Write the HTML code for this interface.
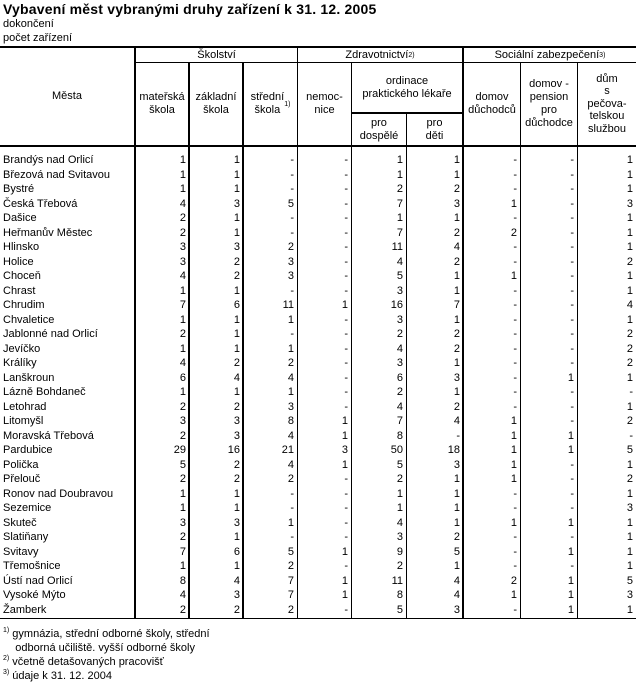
<!DOCTYPE html>
<html><head><meta charset="utf-8"><style>
body{margin:0;width:636px;height:681px;background:#fff;position:relative;overflow:hidden;font-family:"Liberation Sans",Arial,sans-serif;font-size:11px;color:#000}
.a{position:absolute}
.h{position:absolute;background:#000}
.c{position:absolute;display:flex;align-items:center;justify-content:center;text-align:center;line-height:13px}
sup{font-size:7px;vertical-align:top;line-height:7px}
.g{position:absolute;left:0;top:153px;width:636px;display:grid;grid-template-columns:135px 54px 54px 54px 54px 55px 57px 57px 57px 59px;grid-auto-rows:14.52px;line-height:14.52px}
.g span{text-align:right;padding-right:3px;white-space:nowrap}
.g span.n{text-align:left;padding-left:3px;padding-right:0}
</style></head><body>
<div class="a" style="left:3px;top:1px;font-size:14px;font-weight:bold;letter-spacing:0.2px">Vybavení měst vybranými druhy zařízení k 31. 12. 2005</div>
<div class="a" style="left:3px;top:18px">dokončení</div>
<div class="a" style="left:3px;top:32px">počet zařízení</div>

<div class="h" style="left:0;top:46px;width:636px;height:2px"></div>
<div class="h" style="left:135px;top:62px;width:501px;height:1px"></div>
<div class="h" style="left:351px;top:112px;width:112px;height:2px"></div>
<div class="h" style="left:0;top:145px;width:636px;height:2px"></div>
<div class="h" style="left:0;top:618px;width:636px;height:1px"></div>
<div class="h" style="left:134px;top:48px;width:2px;height:570px"></div>
<div class="h" style="left:188px;top:63px;width:2px;height:555px"></div>
<div class="h" style="left:242px;top:63px;width:2px;height:555px"></div>
<div class="h" style="left:297px;top:48px;width:1px;height:570px"></div>
<div class="h" style="left:351px;top:63px;width:1px;height:555px"></div>
<div class="h" style="left:406px;top:114px;width:1px;height:504px"></div>
<div class="h" style="left:462px;top:48px;width:2px;height:570px"></div>
<div class="h" style="left:520px;top:63px;width:1px;height:555px"></div>
<div class="h" style="left:577px;top:63px;width:1px;height:555px"></div>

<div class="c" style="left:0;top:48px;width:134px;height:97px">Města</div>
<div class="c" style="left:136px;top:48px;width:161px;height:14px">Školství</div>
<div class="c" style="left:298px;top:48px;width:164px;height:14px">Zdravotnictví<sup>2)</sup></div>
<div class="c" style="left:464px;top:48px;width:172px;height:14px">Sociální zabezpečení <sup>3)</sup></div>
<div class="c" style="left:136px;top:63px;width:52px;height:82px">mateřská<br>škola</div>
<div class="c" style="left:190px;top:63px;width:52px;height:82px">základní<br>škola</div>
<div class="c" style="left:244px;top:63px;width:53px;height:82px">střední<br>škola<sup>1)</sup></div>
<div class="c" style="left:298px;top:63px;width:53px;height:82px">nemoc-<br>nice</div>
<div class="c" style="left:352px;top:63px;width:110px;height:49px">ordinace<br>praktického lékaře</div>
<div class="c" style="left:352px;top:114px;width:54px;height:31px">pro<br>dospělé</div>
<div class="c" style="left:407px;top:114px;width:55px;height:31px">pro<br>děti</div>
<div class="c" style="left:464px;top:63px;width:56px;height:82px">domov<br>důchodců</div>
<div class="c" style="left:521px;top:63px;width:56px;height:82px">domov -<br>pension<br>pro<br>důchodce</div>
<div class="c" style="left:578px;top:63px;width:58px;height:82px;line-height:12.5px">dům<br>s<br>pečova-<br>telskou<br>službou</div>

<div class="g">
<span class="n">Brandýs nad Orlicí</span><span>1</span><span>1</span><span>-</span><span>-</span><span>1</span><span>1</span><span>-</span><span>-</span><span>1</span>
<span class="n">Březová nad Svitavou</span><span>1</span><span>1</span><span>-</span><span>-</span><span>1</span><span>1</span><span>-</span><span>-</span><span>1</span>
<span class="n">Bystré</span><span>1</span><span>1</span><span>-</span><span>-</span><span>2</span><span>2</span><span>-</span><span>-</span><span>1</span>
<span class="n">Česká Třebová</span><span>4</span><span>3</span><span>5</span><span>-</span><span>7</span><span>3</span><span>1</span><span>-</span><span>3</span>
<span class="n">Dašice</span><span>2</span><span>1</span><span>-</span><span>-</span><span>1</span><span>1</span><span>-</span><span>-</span><span>1</span>
<span class="n">Heřmanův Městec</span><span>2</span><span>1</span><span>-</span><span>-</span><span>7</span><span>2</span><span>2</span><span>-</span><span>1</span>
<span class="n">Hlinsko</span><span>3</span><span>3</span><span>2</span><span>-</span><span>11</span><span>4</span><span>-</span><span>-</span><span>1</span>
<span class="n">Holice</span><span>3</span><span>2</span><span>3</span><span>-</span><span>4</span><span>2</span><span>-</span><span>-</span><span>2</span>
<span class="n">Choceň</span><span>4</span><span>2</span><span>3</span><span>-</span><span>5</span><span>1</span><span>1</span><span>-</span><span>1</span>
<span class="n">Chrast</span><span>1</span><span>1</span><span>-</span><span>-</span><span>3</span><span>1</span><span>-</span><span>-</span><span>1</span>
<span class="n">Chrudim</span><span>7</span><span>6</span><span>11</span><span>1</span><span>16</span><span>7</span><span>-</span><span>-</span><span>4</span>
<span class="n">Chvaletice</span><span>1</span><span>1</span><span>1</span><span>-</span><span>3</span><span>1</span><span>-</span><span>-</span><span>1</span>
<span class="n">Jablonné nad Orlicí</span><span>2</span><span>1</span><span>-</span><span>-</span><span>2</span><span>2</span><span>-</span><span>-</span><span>2</span>
<span class="n">Jevíčko</span><span>1</span><span>1</span><span>1</span><span>-</span><span>4</span><span>2</span><span>-</span><span>-</span><span>2</span>
<span class="n">Králíky</span><span>4</span><span>2</span><span>2</span><span>-</span><span>3</span><span>1</span><span>-</span><span>-</span><span>2</span>
<span class="n">Lanškroun</span><span>6</span><span>4</span><span>4</span><span>-</span><span>6</span><span>3</span><span>-</span><span>1</span><span>1</span>
<span class="n">Lázně Bohdaneč</span><span>1</span><span>1</span><span>1</span><span>-</span><span>2</span><span>1</span><span>-</span><span>-</span><span>-</span>
<span class="n">Letohrad</span><span>2</span><span>2</span><span>3</span><span>-</span><span>4</span><span>2</span><span>-</span><span>-</span><span>1</span>
<span class="n">Litomyšl</span><span>3</span><span>3</span><span>8</span><span>1</span><span>7</span><span>4</span><span>1</span><span>-</span><span>2</span>
<span class="n">Moravská Třebová</span><span>2</span><span>3</span><span>4</span><span>1</span><span>8</span><span>-</span><span>1</span><span>1</span><span>-</span>
<span class="n">Pardubice</span><span>29</span><span>16</span><span>21</span><span>3</span><span>50</span><span>18</span><span>1</span><span>1</span><span>5</span>
<span class="n">Polička</span><span>5</span><span>2</span><span>4</span><span>1</span><span>5</span><span>3</span><span>1</span><span>-</span><span>1</span>
<span class="n">Přelouč</span><span>2</span><span>2</span><span>2</span><span>-</span><span>2</span><span>1</span><span>1</span><span>-</span><span>2</span>
<span class="n">Ronov nad Doubravou</span><span>1</span><span>1</span><span>-</span><span>-</span><span>1</span><span>1</span><span>-</span><span>-</span><span>1</span>
<span class="n">Sezemice</span><span>1</span><span>1</span><span>-</span><span>-</span><span>1</span><span>1</span><span>-</span><span>-</span><span>3</span>
<span class="n">Skuteč</span><span>3</span><span>3</span><span>1</span><span>-</span><span>4</span><span>1</span><span>1</span><span>1</span><span>1</span>
<span class="n">Slatiňany</span><span>2</span><span>1</span><span>-</span><span>-</span><span>3</span><span>2</span><span>-</span><span>-</span><span>1</span>
<span class="n">Svitavy</span><span>7</span><span>6</span><span>5</span><span>1</span><span>9</span><span>5</span><span>-</span><span>1</span><span>1</span>
<span class="n">Třemošnice</span><span>1</span><span>1</span><span>2</span><span>-</span><span>2</span><span>1</span><span>-</span><span>-</span><span>1</span>
<span class="n">Ústí nad Orlicí</span><span>8</span><span>4</span><span>7</span><span>1</span><span>11</span><span>4</span><span>2</span><span>1</span><span>5</span>
<span class="n">Vysoké Mýto</span><span>4</span><span>3</span><span>7</span><span>1</span><span>8</span><span>4</span><span>1</span><span>1</span><span>3</span>
<span class="n">Žamberk</span><span>2</span><span>2</span><span>2</span><span>-</span><span>5</span><span>3</span><span>-</span><span>1</span><span>1</span>
</div>

<div class="a" style="left:3px;top:627px;line-height:14px"><sup>1)</sup> gymnázia, střední odborné školy, střední<br>&nbsp;&nbsp;&nbsp;&nbsp;odborná učiliště. vyšší odborné školy<br><sup>2)</sup> včetně detašovaných pracovišť<br><sup>3)</sup> údaje k 31. 12. 2004</div>
</body></html>
